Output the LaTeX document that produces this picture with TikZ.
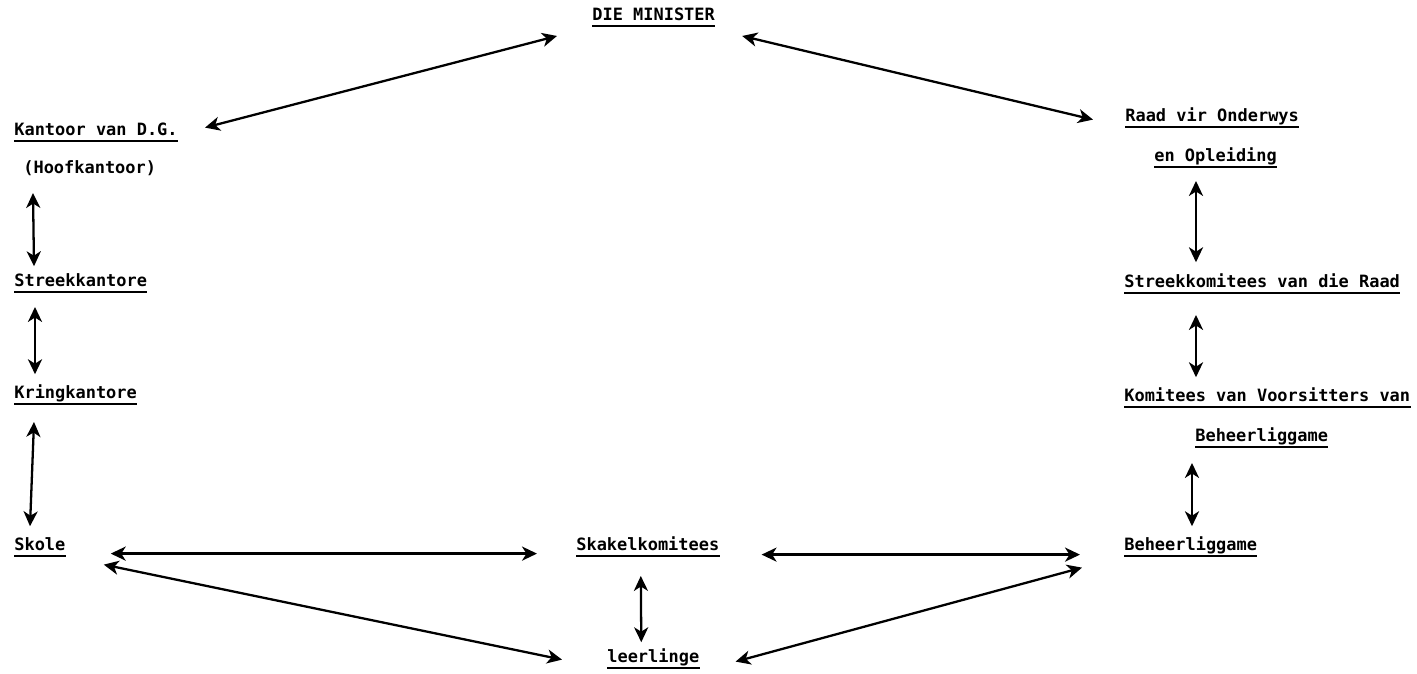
\documentclass[tikz,border=0pt]{standalone}
\usepackage{fontspec}
\setmonofont{DejaVu Sans Mono}
\usetikzlibrary{arrows.meta}

\begin{document}
\begin{tikzpicture}[
  x=0.02cm, y=-0.02cm,
  font=\ttfamily\bfseries\fontsize{9.65}{11}\selectfont, >={Stealth[length=8.5pt,width=8pt,inset=2.5pt]},
  lbl/.style={anchor=base west, inner xsep=0pt, inner ysep=0.7pt, text height=0.75em, text depth=0.25em},
  ul/.style={lbl, append after command={(\tikzlastnode.south west) edge[line width=1.3pt] (\tikzlastnode.south east)}},
  link/.style={<->, line width=1.3pt}]
\useasboundingbox (0,0) rectangle (1417,673);
% top
\node[ul] (minister) at (592,20) {DIE MINISTER};
% left column
\node[ul] (kantoor) at (14,135) {Kantoor van D.G.};
\node[lbl] (hoof) at (23,173) {(Hoofkantoor)};
\node[ul] (streek) at (14,286) {Streekkantore};
\node[ul] (kring) at (14,398) {Kringkantore};
\node[ul] (skole) at (14,550) {Skole};
% right column
\node[ul] (raad) at (1125,121) {Raad vir Onderwys};
\node[ul] (opl) at (1154,161) {en Opleiding};
\node[ul] (streekkom) at (1124,287) {Streekkomitees van die Raad};
\node[ul] (komitees) at (1124,401) {Komitees van Voorsitters van};
\node[ul] (beheermid) at (1195,441) {Beheerliggame};
\node[ul] (beheer) at (1124,550) {Beheerliggame};
% bottom
\node[ul] (skakel) at (576,550) {Skakelkomitees};
\node[ul] (leer) at (607,662) {leerlinge};

\draw[link] ([shift={(27,-3)}]kantoor.east) -- ([shift={(-35,10)}]minister.south west);
\draw[link] ([shift={(27,10)}]minister.south east) -- ([shift={(-32,3)}]raad.west);
\draw[link] ([shift={(10,14)}]hoof.south west) -- ([shift={(20,-5)}]streek.north west);
\draw[link] ([shift={(21,15)}]streek.south west) -- ([shift={(21,-9)}]kring.north west);
\draw[link] ([shift={(20,18)}]kring.south west) -- ([shift={(16,-9)}]skole.north west);
\draw[link] ([shift={(42,14)}]opl.south west) -- ([shift={(72,-10)}]streekkom.north west);
\draw[link] ([shift={(72,22)}]streekkom.south west) -- ([shift={(72,-9)}]komitees.north west);
\draw[link] ([shift={(-3,16)}]beheermid.south west) -- ([shift={(68,-9)}]beheer.north west);
\draw[link] ([shift={(45,8)}]skole.east) -- ([shift={(-39,8)}]skakel.west);
\draw[link] ([shift={(42,9)}]skakel.east) -- ([shift={(-44,9)}]beheer.west);
\draw[link] ([shift={(38,19)}]skole.east) -- ([shift={(-45,2)}]leer.west);
\draw[link] ([shift={(36,4)}]leer.east) -- ([shift={(-42,22)}]beheer.west);
\draw[link] ([shift={(-7,20)}]skakel.south) -- ([shift={(-12,-5)}]leer.north);
\end{tikzpicture}
\end{document}
